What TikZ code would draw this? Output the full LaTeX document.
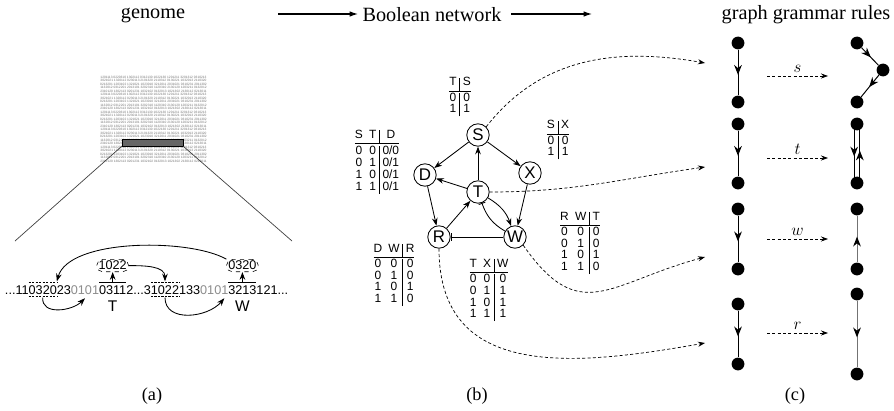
\documentclass[tikz,border=0pt]{standalone}
\usepackage{fontspec}
\setmainfont{Liberation Serif}
\setsansfont{Liberation Sans}
\usetikzlibrary{arrows.meta,positioning,decorations.markings}

\newcommand\rowA{1201113 0220310 1302112 0312130 1022130 1201211 3201312 0310213}
\newcommand\rowB{3021021 1320112 0230113 2101320 2110312 0130221 1032013 2110320}
\newcommand\rowC{0213201 1203102 1321021 1023010 3212011 2031021 0310231 2011302}
\newcommand\rowD{1132012 0312201 2013101 3202310 1120310 2130120 1203211 0132012}
\newcommand\rowE{2310120 1302113 0201231 1032102 0132013 1021302 2130112 0213011}
\newcommand\gap{\noalign{\vskip 1.2pt}}

\begin{document}
\begin{tikzpicture}[
  x=0.025cm, y=0.025cm,
  title/.style={font=\Large},
  caption/.style={font=\fontsize{13}{15}\selectfont},
  blockrow/.style={inner sep=0pt, text=black!55, font=\sffamily\fontsize{2.3}{2.3}\selectfont},
  seq/.style={inner sep=0pt, outer sep=0pt, anchor=base west, text height=6.5pt, text depth=0pt,
    font=\sffamily\fontsize{9}{10}\selectfont},
  site/.style={draw, dashed, rounded corners=4pt, inner sep=1.2pt, font=\sffamily\fontsize{9}{10}\selectfont},
  gene/.style={inner sep=1pt, font=\sffamily\fontsize{11}{12}\selectfont},
  gnode/.style={circle, draw, line width=0.6pt, minimum size=0.56cm, inner sep=0pt,
    font=\sffamily\fontsize{12}{12}\selectfont},
  act/.style={-{Stealth[length=5.5pt,width=4pt]}, line width=0.6pt},
  inh/.style={-{Bar[width=5pt]}, line width=0.6pt},
  truth/.style={inner sep=0pt, font=\sffamily\fontsize{8.5}{8.5}\selectfont,
    execute at begin node={\setlength{\tabcolsep}{2.2pt}\renewcommand{\arraystretch}{0.95}}},
  map/.style={dash pattern=on 2.2pt off 1.6pt, -{Stealth[length=5pt,width=3.6pt]}, line width=0.5pt},
  dot/.style={circle, fill, minimum size=0.32cm, inner sep=0pt},
  mid/.style={line width=0.7pt, postaction={decorate}, decoration={markings,
    mark=at position 0.55 with {\arrow{Stealth[length=7pt,width=5.5pt,color=black]}}}},
]
\useasboundingbox (0,0) rectangle (894,410);

% --- titles ---
\node[title] (tgen) at (153,395) {genome};
\node[title] (tnet) at (432,395) {Boolean network};
\node[title] (tgg) at (806,395) {graph grammar rules};
\coordinate (h1) at (278,396);
\coordinate (h2) at (358,396);
\coordinate (h3) at (511,396);
\coordinate (h4) at (592,396);
\draw[-{Latex[length=6pt,width=4pt]}, line width=0.8pt] (h1) -- (h2);
\draw[-{Latex[length=6pt,width=4pt]}, line width=0.8pt] (h3) -- (h4);

% --- (a): genome block ---
\foreach \i in {0,...,24} {
  \pgfmathtruncatemacro\k{mod(\i,5)}
  \node[blockrow] (row\i) at (153.5,333-\i*3.5)
    {\ifcase\k\relax\rowA\or\rowB\or\rowC\or\rowD\or\rowE\fi};
}
\node[draw, fill=black!60, line width=0.5pt, minimum width=1.525cm, minimum height=0.175cm,
  inner sep=0pt] (zoombar) at (152.5,267.5) {};
\coordinate (zl) at (15,169);
\coordinate (zr) at (292,169);
\draw[black!75, line width=0.5pt] (zoombar.south west) -- (zl);
\draw[black!75, line width=0.5pt] (zoombar.south east) -- (zr);

% --- (a): sequence ---
\node[seq] (q1) at (5,116) {...11};
\node[seq] (q2) at (q1.base east) {0320};
\node[seq] (q3) at (q2.base east) {23};
\node[seq, text=black!45] (q4) at (q3.base east) {0101};
\node[seq] (q5) at (q4.base east) {0311};
\node[seq] (q6) at (q5.base east) {2...3};
\node[seq] (q7) at (q6.base east) {1022};
\node[seq] (q8) at (q7.base east) {133};
\node[seq, text=black!45] (q9) at (q8.base east) {0101};
\node[seq] (q10) at (q9.base east) {3213};
\node[seq] (q11) at (q10.base east) {121...};

\foreach \q in {q2,q7} {
  \draw[dash pattern=on 1.5pt off 1pt, line width=0.5pt]
    ([yshift=1.5pt]\q.north west) -- ([yshift=1.5pt]\q.north east);
  \draw[dash pattern=on 1.5pt off 1pt, line width=0.5pt]
    ([yshift=-2pt]\q.south west) -- ([yshift=-2pt]\q.south east);
}
\draw[line width=0.6pt] ([yshift=1.5pt]q5.north west) -- ([yshift=1.5pt]q5.north east);
\draw[line width=0.6pt] ([yshift=1.5pt]q10.north west) -- ([yshift=1.5pt]q10.north east);

\node[gene, below=0.12cm of q5] (lT) {T};
\node[gene, below=0.12cm of q10] (lW) {W};
\node[site, above=0.32cm of q5] (b1022) {1022};
\node[site, above=0.32cm of q10] (b0320) {0320};

\draw[act] ([yshift=1.5pt]q5.north) -- (b1022.south);
\draw[act] ([yshift=1.5pt]q10.north) -- (b0320.south);
\draw[act] (b1022.east) to[out=0,in=90] ([yshift=2.5pt]q7.north);
\draw[act] (b0320.north west) .. controls +(-37,21) and +(12,43) .. ([yshift=2.5pt]q2.north east);
\draw[act] ([yshift=-2.5pt]q2.south) to[out=-95,in=-135,looseness=1.1] ([yshift=-3pt]q4.south);
\draw[act] ([yshift=-2.5pt]q7.south) to[out=-90,in=-130,looseness=1.1] ([xshift=-0.1cm,yshift=-3pt]q9.south east);

% --- (b): truth tables ---
\node[truth] (tabS) at (460,313) {\begin{tabular}{@{}c|c@{}} T & S\\[1pt] \hline\gap 0 & 0\\ 1 & 1\end{tabular}};
\node[truth] (tabD) at (377,248) {\begin{tabular}{@{}cc|c@{}} S & T & D\\[1pt] \hline\gap
  0 & 0 & 0/0\\ 0 & 1 & 0/1\\ 1 & 0 & 0/1\\ 1 & 1 & 0/1\end{tabular}};
\node[truth] (tabX) at (558,270) {\begin{tabular}{@{}c|c@{}} S & X\\[1pt] \hline\gap 0 & 0\\ 1 & 1\end{tabular}};
\node[truth] (tabT) at (580,167) {\begin{tabular}{@{}cc|c@{}} R & W & T\\[1pt] \hline\gap
  0 & 0 & 0\\ 0 & 1 & 0\\ 1 & 0 & 1\\ 1 & 1 & 0\end{tabular}};
\node[truth] (tabR) at (394,135) {\begin{tabular}{@{}cc|c@{}} D & W & R\\[1pt] \hline\gap
  0 & 0 & 0\\ 0 & 1 & 0\\ 1 & 0 & 1\\ 1 & 1 & 0\end{tabular}};
\node[truth] (tabW) at (489,120) {\begin{tabular}{@{}cc|c@{}} T & X & W\\[1pt] \hline\gap
  0 & 0 & 0\\ 0 & 1 & 1\\ 1 & 0 & 1\\ 1 & 1 & 1\end{tabular}};

% --- (b): network ---
\node[gnode] (S) at (478,275) {S};
\node[gnode] (D) at (425,235) {D};
\node[gnode] (X) at (530,237) {X};
\node[gnode] (T) at (478,218) {T};
\node[gnode] (R) at (439,173) {R};
\node[gnode] (W) at (515,173) {W};

\draw[act] (S) -- (D);
\draw[act] (S) -- (X);
\draw[act] (T) -- (S);
\draw[act] (T) -- (D);
\draw[act] (D) -- (R);
\draw[act] (R) -- (T);
\draw[act] (X) -- (W);
\draw[act] (T) to[bend left=20] (W);
\draw[inh] (W) to[bend left=20] (T);
\draw[inh] (W) -- (R);

% --- (c): targets of the maps ---
\coordinate (inS) at (705,347);
\coordinate (inT) at (705,243);
\coordinate (inW) at (705,153);
\coordinate (inR) at (705,67);
\draw[map] (S.north east) to[out=52,in=170] (inS);
\draw[map] (T.east) to[out=0,in=188] (inT);
\draw[map] (W.south east) to[out=-55,in=195,looseness=1.4] (inW);
\draw[map] (R.south) to[out=-90,in=190,looseness=1.2] (inR);

% --- (c): rule s ---
\node[dot] (s1) at (738,367) {};
\node[dot] (s2) at (738,308) {};
\node[dot] (s3) at (857,367) {};
\node[dot] (s4) at (883,340) {};
\node[dot] (s5) at (857,308) {};
\draw[mid] (s1) -- (s2);
\draw[mid] (s3) -- (s4);
\draw[mid] (s4) -- (s5);
\coordinate (sa) at (767,334);
\coordinate (sb) at (828,334);
\draw[map] (sa) -- (sb) node[midway, above=-1pt] {\large $s$};

% --- (c): rule t ---
\node[dot] (t1) at (738,286) {};
\node[dot] (t2) at (738,227) {};
\node[dot] (t3) at (857,286) {};
\node[dot] (t4) at (857,227) {};
\draw[mid] (t1) -- (t2);
\draw[mid] ([xshift=-2pt]t3.center) -- ([xshift=-2pt]t4.center);
\draw[mid] ([xshift=2pt]t4.center) -- ([xshift=2pt]t3.center);
\coordinate (ta) at (767,252);
\coordinate (tb) at (828,252);
\draw[map] (ta) -- (tb) node[midway, above=-1pt] {\large $t$};

% --- (c): rule w ---
\node[dot] (w1) at (738,201) {};
\node[dot] (w2) at (738,141) {};
\node[dot] (w3) at (857,201) {};
\node[dot] (w4) at (857,141) {};
\draw[mid] (w1) -- (w2);
\draw[mid, draw=black!55] (w4) -- (w3);
\coordinate (wa) at (767,171);
\coordinate (wb) at (828,171);
\draw[map] (wa) -- (wb) node[midway, above=-1pt] {\large $w$};

% --- (c): rule r ---
\node[dot] (r1) at (738,106) {};
\node[dot] (r2) at (738,46) {};
\node[dot] (r3) at (857,116) {};
\node[dot] (r4) at (857,36) {};
\draw[mid] (r1) -- (r2);
\draw[mid, draw=black!55] (r3) -- (r4);
\coordinate (ra) at (767,77);
\coordinate (rb) at (828,77);
\draw[map] (ra) -- (rb) node[midway, above=-1pt] {\large $r$};

% --- captions ---
\node[caption] (ca) at (152,14) {(a)};
\node[caption] (cb) at (477,14) {(b)};
\node[caption] (cc) at (795,14) {(c)};

\end{tikzpicture}
\end{document}
